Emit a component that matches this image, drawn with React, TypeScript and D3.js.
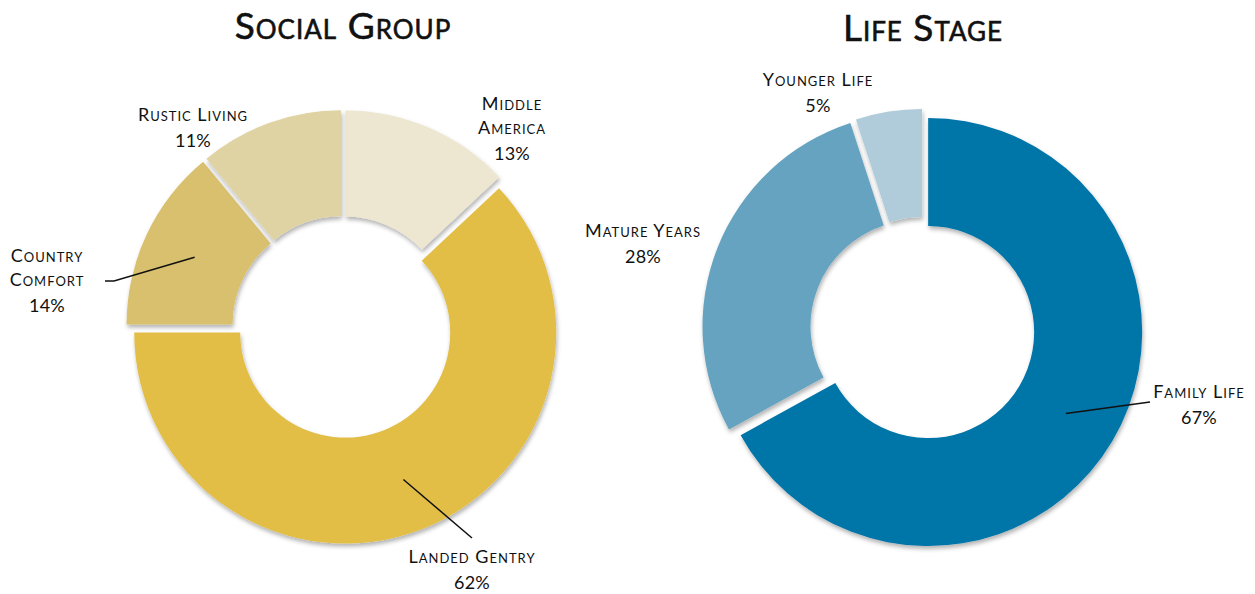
import React from 'react';
import * as d3 from 'd3';

// Social group
const socialNames = ['Middle America', 'Landed Gentry', 'Country Comfort', 'Rustic Living'];
const socialLines = [['Middle', 'America'], ['Landed Gentry'], ['Country', 'Comfort'], ['Rustic Living']];
const socialValues = [13, 62, 14, 11];
const socialColors = ['#EDE6D0', '#E3BE46', '#D9C06E', '#E0D3A3'];

// Life stage
const lifeNames = ['Family Life', 'Mature Years', 'Younger Life'];
const lifeLines = [['Family Life'], ['Mature Years'], ['Younger Life']];
const lifeValues = [67, 28, 5];
const lifeColors = ['#0074A8', '#66A3C0', '#B0CCDB'];

const W = 1255;
const H = 594;
const FONT = 'Lato, "Noto Sans", sans-serif';

// label placement, relative to the donut centre (first baseline + leader end points)
const socialLayout = [
  {x: 169, y: -217, line: null},
  {x: 129, y: 236, line: [[129, 211]]},
  {x: -296, y: -65, line: [[-238, -46], [-229, -46]]},
  {x: -150, y: -206, line: null},
];
const lifeLayout = [
  {x: 276, y: 69, line: [[227, 73]]},
  {x: -280, y: -92, line: null},
  {x: -105, y: -243, line: null},
];

function Donut({cx, cy, outer, inner, values, names, lines, colors, layout, explode, title}) {
  const pie = d3.pie<number>().sort(null).value(d => d)
  const arcs = pie(values)
  const arc = d3.arc<any>().innerRadius(inner).outerRadius(outer)
  const total = d3.sum(values)

  return (
    <g transform={`translate(${cx},${cy})`}>
      <text x={0} y={-288} textAnchor="middle" fontFamily={FONT} fontSize={37}
        fontWeight={400} stroke="#111" strokeWidth={0.6} style={{fontVariant: 'small-caps'}}
        fill="#111" letterSpacing={1}>
        {title}
      </text>
      {arcs.map((a, i) => {
        const mid = (a.startAngle + a.endAngle) / 2
        const d = explode[i]
        const ox = Math.sin(mid) * d
        const oy = -Math.cos(mid) * d
        return (
          <path key={names[i]} d={arc(a)} fill={colors[i]}
            transform={`translate(${ox},${oy})`} filter="url(#shadow)" />
        )
      })}
      {arcs.map((a, i) => {
        const lay = layout[i]
        if (!lay.line) return null
        const mid = (a.startAngle + a.endAngle) / 2
        const d = explode[i]
        const [px, py] = arc.centroid(a)
        const sx = px + Math.sin(mid) * d
        const sy = py - Math.cos(mid) * d
        const pts = [[sx, sy], ...lay.line.slice().reverse()]
        return (
          <polyline key={'l' + i} points={pts.map(p => p.join(',')).join(' ')}
            fill="none" stroke="#111" strokeWidth={1.5} />
        )
      })}
      {arcs.map((a, i) => {
        const lay = layout[i]
        const pct = Math.round(values[i] / total * 100) + '%'
        const n = lines[i].length
        return (
          <text key={'t' + i} textAnchor="middle" fontFamily={FONT} fontSize={18}
            fill="#111" style={{fontVariant: 'small-caps'}} letterSpacing={1}>
            {lines[i].map((s, j) => (
              <tspan key={j} x={lay.x} y={lay.y + j * 24}>{s}</tspan>
            ))}
            <tspan x={lay.x} y={lay.y + (n - 1) * 24 + 26} letterSpacing={0.3}>{pct}</tspan>
          </text>
        )
      })}
    </g>
  )
}

export default function App() {
  return (
    <svg width={W} height={H} style={{position: 'absolute', left: 0, top: 0, background: '#fff'}}>
      <defs>
        <filter id="shadow" x="-20%" y="-20%" width="140%" height="140%">
          <feDropShadow dx={1} dy={3} stdDeviation={2.2} floodColor="#000" floodOpacity={0.3} />
        </filter>
      </defs>
      <Donut cx={343} cy={327} outer={211} inner={105} values={socialValues} names={socialNames}
        lines={socialLines} colors={socialColors} layout={socialLayout}
        explode={[6, 6, 6, 6]} title="Social Group" />
      <Donut cx={923} cy={329} outer={214} inner={106} values={lifeValues} names={lifeNames}
        lines={lifeLines} colors={lifeColors} layout={lifeLayout}
        explode={[6, 7, 6]} title="Life Stage" />
    </svg>
  )
}
